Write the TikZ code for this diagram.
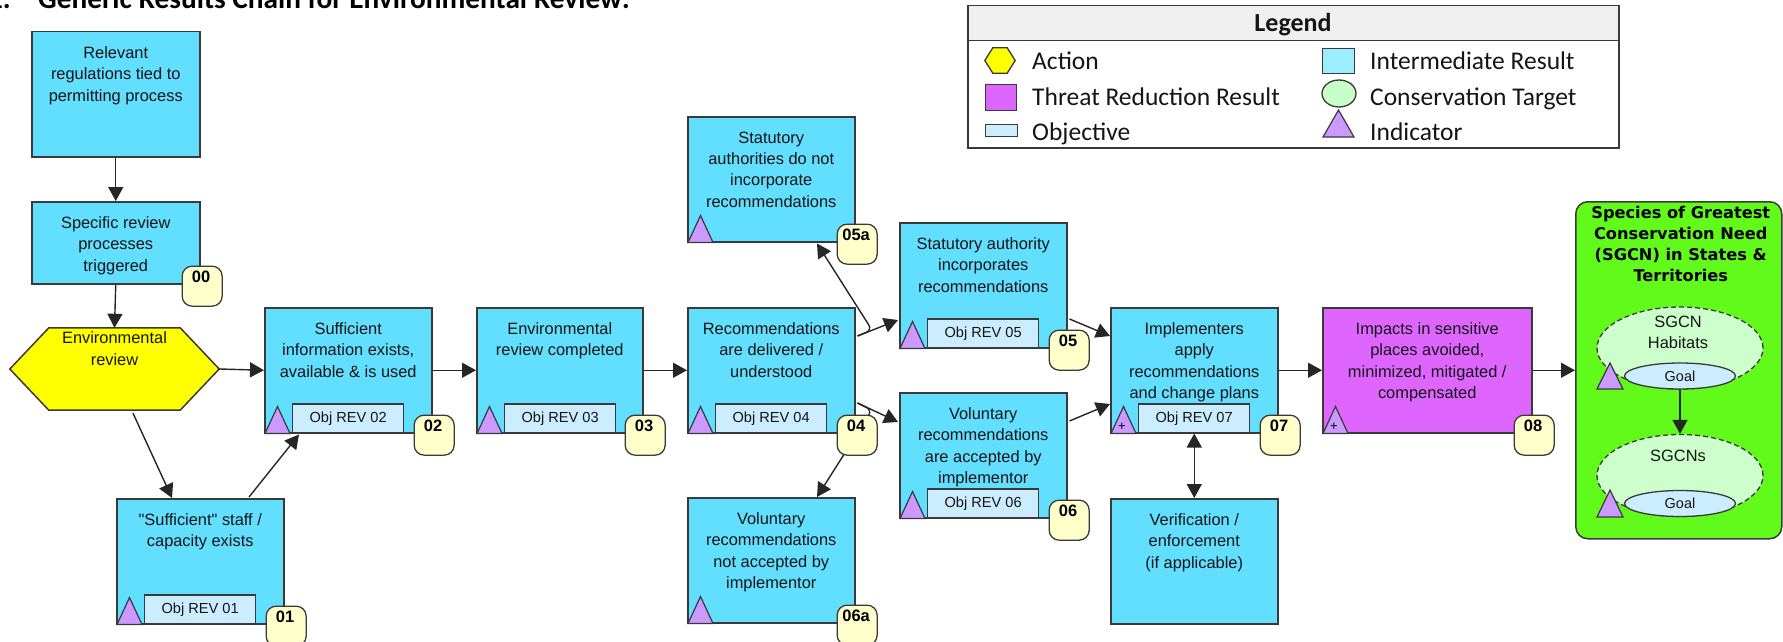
\documentclass[tikz,border=0pt]{standalone}
\usepackage{fontspec}
\setmainfont{Liberation Sans}
\newfontfamily\calfont{Carlito}
\newfontfamily\widebold{DejaVu Sans}
\usetikzlibrary{arrows.meta,calc,shapes.geometric}

\definecolor{irblue}{HTML}{62DEFF}
\definecolor{objblue}{HTML}{CCECFF}
\definecolor{indpurple}{HTML}{CC99FF}
\definecolor{badgeyellow}{HTML}{FFFFCC}
\definecolor{trmagenta}{HTML}{DE66FF}
\definecolor{sgcngreen}{HTML}{62FA1A}
\definecolor{tgtgreen}{HTML}{CCFFCC}
\definecolor{actyellow}{HTML}{FFFF00}
\definecolor{edgegray}{HTML}{3A3A3A}
\definecolor{wire}{HTML}{262626}
\definecolor{inktext}{HTML}{151515}
\definecolor{legheadgray}{HTML}{F0F0F0}
\definecolor{legir}{HTML}{9AEEFF}
\definecolor{legtr}{HTML}{DD66FF}
\definecolor{legtgt}{HTML}{C8FFC8}

% result box: [style]{name}{x}{y}{width}{height}{text}
\newcommand\resultbox[7][ir]{%
  \node[#1, minimum width=#5, minimum height=#6] (#2) at (#3,#4) {};
  \node[boxtext] (#2-text) at ($(#2.north)+(0,15.5)$) {#7};
}
% objective tag at the bottom of a box
\newcommand\objective[2]{%
  \node[objbox] (#1-obj) at ($(#1.south west)+(28,0)$) {#2};
}
% indicator triangle, given its lower left corner
\newcommand\indicator[1]{%
  \draw[indtri] (#1) -- ++(12.5,-27) -- ++(12.5,27) -- cycle;
}
% numbered badge on the lower right corner of a box
\newcommand\badge[2]{%
  \node[badgebox] (#1-num) at ($(#1.south east)+(-19,-19)$) {};
  \node[badgetext] (#1-numtext) at ($(#1-num.north)+(-1,11)$) {#2};
}

\begin{document}
\begin{tikzpicture}[x=1pt,y=-1pt,
  box/.style={draw=edgegray, line width=1.5pt, rectangle, inner sep=0pt, anchor=north west},
  ir/.style={box, fill=irblue},
  tr/.style={box, fill=trmagenta},
  boxtext/.style={font=\fontsize{16.4}{21.3}\selectfont, align=center, inner sep=0pt,
    anchor=north, text=inktext, execute at begin node=\rule{0pt}{12pt}},
  objbox/.style={draw=edgegray, line width=1.3pt, fill=objblue, inner sep=0pt,
    anchor=south west, minimum width=111, minimum height=29,
    font=\fontsize{14.6}{14.6}\selectfont, text=inktext},
  indtri/.style={draw=edgegray, line width=1.2pt, fill=indpurple, line join=miter},
  badgebox/.style={draw=edgegray, line width=1.3pt, fill=badgeyellow, rounded corners=10pt,
    minimum width=40, minimum height=40, inner sep=0pt, anchor=north west},
  badgetext/.style={font=\bfseries\fontsize{16.5}{16.5}\selectfont, inner sep=0pt, text=black},
  arr/.style={draw=wire, line width=1.4pt, -{Triangle[length=14pt,width=15pt]}},
  biarr/.style={draw=wire, line width=1.4pt, {Triangle[length=14pt,width=15pt]}-{Triangle[length=14pt,width=15pt]}},
  plusmark/.style={font=\fontsize{13}{13}\selectfont, inner sep=0pt, text=black},
  goal/.style={ellipse, draw=edgegray, line width=1.3pt, fill=objblue, minimum width=111,
    minimum height=26, inner sep=0pt, font=\fontsize{14.5}{14.5}\selectfont, text=inktext},
  target/.style={ellipse, draw=edgegray, line width=1.3pt, dash pattern=on 5pt off 3pt,
    fill=tgtgreen, minimum width=166, minimum height=82, inner sep=0pt},
  legtext/.style={font=\calfont\fontsize{25.5}{25.5}\selectfont, anchor=base west,
    inner sep=0pt, text=inktext},
]
\useasboundingbox (0,0) rectangle (1783,642);

% heading
\node[anchor=base east, inner sep=0pt, font=\calfont\bfseries\fontsize{29.3}{29.3}\selectfont]
  (titlenum) at (11,9) {1.};
\node[anchor=base west, inner sep=0pt, font=\calfont\bfseries\fontsize{29.3}{29.3}\selectfont]
  (title) at (38,9) {Generic Results Chain for Environmental Review:};

% legend
\node[draw=edgegray, line width=1.5pt, fill=white, minimum width=651, minimum height=142,
  inner sep=0pt, anchor=north west] (legend) at (967,5) {};
\node[draw=edgegray, line width=1.5pt, fill=legheadgray, minimum width=651, minimum height=35,
  inner sep=0pt, anchor=north west] (leghead) at (967,5) {};
\node[anchor=base, inner sep=0pt, font=\calfont\bfseries\fontsize{26}{26}\selectfont,
  text=inktext] (leghead-text) at (1293,31.5) {Legend};
\node[minimum width=30, minimum height=25, inner sep=0pt] (lg-act) at (1000,60.5) {};
\filldraw[draw=edgegray, line width=1.3pt, fill=actyellow]
  (lg-act.west) -- ($(lg-act.north west)+(8,0)$) -- ($(lg-act.north east)+(-8,0)$)
  -- (lg-act.east) -- ($(lg-act.south east)+(-8,0)$) -- ($(lg-act.south west)+(8,0)$) -- cycle;
\node[legtext] (lg-act-t) at (1032,70) {Action};
\node[box, line width=1.3pt, fill=legtr, minimum width=31, minimum height=26] (lg-tr) at (985,84) {};
\node[legtext] (lg-tr-t) at (1032,106) {Threat Reduction Result};
\node[box, line width=1.3pt, fill=objblue, minimum width=32, minimum height=12] (lg-obj) at (985,124) {};
\node[legtext] (lg-obj-t) at (1032,140) {Objective};
\node[box, line width=1.3pt, fill=legir, minimum width=32, minimum height=25] (lg-ir) at (1322,48) {};
\node[legtext] (lg-ir-t) at (1370,70) {Intermediate Result};
\node[ellipse, draw=edgegray, line width=1.3pt, fill=legtgt, minimum width=34, minimum height=27,
  inner sep=0pt] (lg-tgt) at (1339,93.5) {};
\node[legtext] (lg-tgt-t) at (1370,106) {Conservation Target};
\draw[indtri] (1323,137) -- (1338.5,110) -- (1354,137) -- cycle;
\node[legtext] (lg-ind-t) at (1370,140) {Indicator};

% result boxes
\resultbox{rel}{31}{31}{168}{125}{Relevant\\regulations tied to\\permitting process}
\resultbox{b00}{31}{201}{168}{82}{Specific review\\processes\\triggered}
\resultbox{b01}{116}{498}{167}{125}{\textquotedbl Sufficient\textquotedbl\ staff /\\capacity exists}
\resultbox{b02}{264}{307}{167}{125}{Sufficient\\information exists,\\available \& is used}
\resultbox{b03}{476}{307}{166}{125}{Environmental\\review completed}
\resultbox{b04}{687}{307}{167}{125}{Recommendations\\are delivered /\\understood}
\resultbox{b05a}{687}{116}{167}{125}{Statutory\\authorities do not\\incorporate\\recommendations}
\resultbox{b05}{899}{222}{167}{125}{Statutory authority\\incorporates\\recommendations}
\resultbox{b06}{899}{392}{167}{125}{Voluntary\\recommendations\\are accepted by\\implementor}
\resultbox{b06a}{687}{497}{167}{125}{Voluntary\\recommendations\\not accepted by\\implementor}
\resultbox{b07}{1110}{307}{167}{125}{Implementers\\apply\\recommendations\\and change plans}
\resultbox{ver}{1110}{498}{167}{125}{Verification /\\enforcement\\(if applicable)}
\resultbox[tr]{b08}{1322}{307}{209}{125}{Impacts in sensitive\\places avoided,\\minimized, mitigated /\\compensated}

% action
\node[minimum width=209, minimum height=82, inner sep=0pt] (hex) at (114.5,369) {};
\filldraw[draw=edgegray, line width=1.5pt, fill=actyellow]
  (hex.west) -- ($(hex.north west)+(39,0)$) -- ($(hex.north east)+(-39,0)$)
  -- (hex.east) -- ($(hex.south east)+(-39,0)$) -- ($(hex.south west)+(39,0)$) -- cycle;
\node[boxtext] (hex-text) at ($(hex.north)+(0,4)$) {Environmental\\review};

% objectives
\objective{b01}{Obj REV 01}
\objective{b02}{Obj REV 02}
\objective{b03}{Obj REV 03}
\objective{b04}{Obj REV 04}
\objective{b05}{Obj REV 05}
\objective{b06}{Obj REV 06}
\objective{b07}{Obj REV 07}

% indicators
\indicator{$(b01.south west)+(1,0)$}
\indicator{$(b02.south west)+(1,0)$}
\indicator{$(b03.south west)+(1,0)$}
\indicator{$(b04.south west)+(1,0)$}
\indicator{$(b05a.south west)+(1,0)$}
\indicator{$(b05.south west)+(1,0)$}
\indicator{$(b06.south west)+(1,0)$}
\indicator{$(b06a.south west)+(1,0)$}
\indicator{$(b07.south west)+(1,0)$}
\indicator{$(b08.south west)+(1,0)$}
\node[plusmark] (b07-plus) at ($(b07.south west)+(12,-6.5)$) {+};
\node[plusmark] (b08-plus) at ($(b08.south west)+(12,-6.5)$) {+};

% conservation target group
\node[draw=edgegray, line width=1.5pt, fill=sgcngreen, rounded corners=12pt, minimum width=206,
  minimum height=337, inner sep=0pt, anchor=north west] (sgcn) at (1575,201) {};
\node[boxtext, font=\widebold\bfseries\fontsize{16.2}{21}\selectfont, text=black,
  execute at begin node=\rule{0pt}{12.5pt}] (sgcn-text) at ($(sgcn.north)+(2,4.5)$)
  {Species of Greatest\\Conservation Need\\(SGCN) in States \&\\Territories};
\node[target] (e1) at (1680,348) {};
\node[boxtext] (e1-text) at ($(e1.north)+(-2,9.5)$) {SGCN\\Habitats};
\node[goal] (g1) at (1680,376) {Goal};
\draw[indtri] (1597,389) -- (1610,363) -- (1623,389) -- cycle;
\node[target] (e2) at (1680,475.5) {};
\node[boxtext] (e2-text) at ($(e2.north)+(-2,15)$) {SGCNs};
\node[goal] (g2) at (1680,503.5) {Goal};
\draw[indtri] (1597,517) -- (1610,490) -- (1623,517) -- cycle;

% connectors
\coordinate (j1) at (872,330);
\coordinate (j2) at (872,410.2);
\draw[arr] (rel.south) -- (b00.north);
\draw[arr] (b00.south) -- (hex.north);
\draw[arr] (hex.east) -- (b02.west);
\draw[arr] ($(hex.south)+(18.5,3)$) -- ($(b01.north west)+(56,0)$);
\draw[arr] ($(b01.north west)+(133,-1)$) -- ($(b02.south west)+(35,1)$);
\draw[arr] (b02.east) -- (b03.west);
\draw[arr] (b03.east) -- (b04.west);
\draw[arr] ($(b04.north east)+(2,29)$) -- ($(b05.north west)+(-1,98)$);
\draw[arr, rounded corners=6pt] ($(b04.north east)+(2,29)$) -- (j1) -- ($(b05a.south west)+(130,1)$);
\draw[arr] ($(b04.north east)+(2,96)$) -- ($(b06.north west)+(-1,30)$);
\draw[arr, rounded corners=6pt] ($(b04.north east)+(2,96)$) -- (j2) -- ($(b06a.north west)+(130,0)$);
\draw[arr] ($(b05.north east)+(2,97)$) -- ($(b07.north west)+(0,29)$);
\draw[arr] ($(b06.north east)+(2,29)$) -- ($(b07.north west)+(0,97)$);
\draw[arr] (b07.east) -- (b08.west);
\draw[biarr] (b07.south) -- (ver.north);
\draw[arr] (b08.east) -- (sgcn.west);
\draw[arr] (g1.south) -- (e2.north);

% numbers
\badge{b00}{00}
\badge{b01}{01}
\badge{b02}{02}
\badge{b03}{03}
\badge{b04}{04}
\badge{b05a}{05a}
\badge{b05}{05}
\badge{b06}{06}
\badge{b06a}{06a}
\badge{b07}{07}
\badge{b08}{08}
\end{tikzpicture}
\end{document}
